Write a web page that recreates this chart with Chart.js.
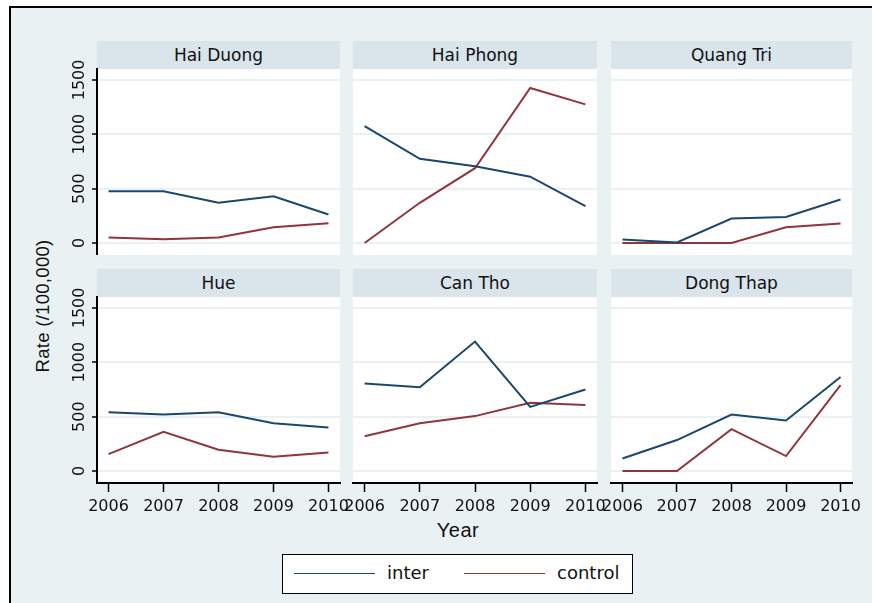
<!DOCTYPE html>
<html>
<head>
<meta charset="utf-8">
<script src="https://cdn.jsdelivr.net/npm/chart.js@4.4.1/dist/chart.umd.min.js"></script>
<style>
  html, body { margin: 0; padding: 0; background: #ffffff; }
  #page { position: relative; width: 872px; height: 603px; overflow: hidden;
          font-family: "DejaVu Sans", sans-serif; color: #111; }
  #frame { position: absolute; left: 9px; top: 6px; width: 900px; height: 640px;
           border-left: 2px solid #000; border-top: 2px solid #000; background: #e9f1f3; }
  .strip { position: absolute; background: #d9e5eb; font-size: 17px;
           display: flex; align-items: center; justify-content: center; }
  .plotbg { position: absolute; background: #ffffff; }
  canvas.panel { position: absolute; }
  #ytitle { position: absolute; left: 43px; top: 306px; font-size: 18.5px; white-space: nowrap;
            font-family: "Liberation Sans", Arial, sans-serif; letter-spacing: 0.3px;
            transform: translate(-50%, -50%) rotate(-90deg); }
  #xtitle { position: absolute; left: 458px; top: 530px; font-size: 20px;
            font-family: "Liberation Sans", Arial, sans-serif; letter-spacing: 0.5px;
            transform: translate(-50%, -50%); }
  #legend { position: absolute; left: 282px; top: 554px; width: 349px; height: 38px;
            border: 1.5px solid #000; background: #fff; }
  .swatch { position: absolute; top: 18px; height: 0; border-top: 1.5px solid; width: 81px; }
  .ltext { position: absolute; top: 7px; font-size: 18px; }
</style>
</head>
<body>
<div id="page">
  <div id="frame"></div>
  <div id="ytitle">Rate (/100,000)</div>
  <div id="xtitle">Year</div>
  <div id="legend">
    <div class="swatch" style="left:11px;border-color:#1a476f"></div>
    <div class="ltext" style="left:104px">inter</div>
    <div class="swatch" style="left:181px;border-color:#90353b"></div>
    <div class="ltext" style="left:274px">control</div>
  </div>
</div>
<script>
// Years on the horizontal axis and the value ticks on the vertical axis
const years = [2006, 2007, 2008, 2009, 2010];
const yTicks = [0, 500, 1000, 1500];

// One panel per province
const regions = ['Hai Duong', 'Hai Phong', 'Quang Tri', 'Hue', 'Can Tho', 'Dong Thap'];

// Rates per 100,000, intervention vs control group
const interHaiDuong   = [475, 475, 370, 430, 262];
const controlHaiDuong = [52, 35, 52, 145, 183];
const interHaiPhong   = [1075, 775, 705, 610, 340];
const controlHaiPhong = [0, 370, 688, 1425, 1275];
const interQuangTri   = [32, 5, 225, 240, 400];
const controlQuangTri = [0, 0, 0, 145, 180];
const interHue        = [540, 520, 540, 440, 400];
const controlHue      = [155, 360, 195, 132, 170];
const interCanTho     = [805, 770, 1190, 590, 750];
const controlCanTho   = [320, 440, 505, 628, 608];
const interDongThap   = [115, 285, 520, 465, 865];
const controlDongThap = [0, 0, 385, 138, 790];

const interRates = [interHaiDuong, interHaiPhong, interQuangTri, interHue, interCanTho, interDongThap];
const controlRates = [controlHaiDuong, controlHaiPhong, controlQuangTri, controlHue, controlCanTho, controlDongThap];

// Panel grid geometry
const colLeft = [97, 353, 611];
const colWidth = [243, 244, 241];
const rowTop = [41, 269];
const STRIP_H = 28;
const PLOT_H = 186;
const AXIS_W = 45;
const EXTRA_R = 25;
const EXTRA_T = 24;
const XAXIS_H = 40;

const INTER_COLOR = '#1a476f';
const CONTROL_COLOR = '#90353b';
const FONT = { family: '"DejaVu Sans", sans-serif', size: 16 };

const page = document.getElementById('page');

regions.forEach((name, i) => {
  const col = i % 3;
  const row = Math.floor(i / 3);
  const left = colLeft[col];
  const top = rowTop[row] + STRIP_H;
  const w = colWidth[col];

  const strip = document.createElement('div');
  strip.className = 'strip';
  strip.style.left = left + 'px';
  strip.style.top = rowTop[row] + 'px';
  strip.style.width = w + 'px';
  strip.style.height = STRIP_H + 'px';
  strip.textContent = name;
  page.appendChild(strip);

  const bg = document.createElement('div');
  bg.className = 'plotbg';
  bg.style.left = left + 'px';
  bg.style.top = top + 'px';
  bg.style.width = w + 'px';
  bg.style.height = PLOT_H + 'px';
  page.appendChild(bg);

  // The canvas reaches past the plot area so edge tick labels are not cut off
  const cw = w + AXIS_W + EXTRA_R;
  const ch = EXTRA_T + PLOT_H + (row === 1 ? XAXIS_H : 0);
  const canvas = document.createElement('canvas');
  canvas.className = 'panel';
  canvas.width = cw;
  canvas.height = ch;
  canvas.style.left = (left - AXIS_W) + 'px';
  canvas.style.top = (top - EXTRA_T) + 'px';
  canvas.style.width = cw + 'px';
  canvas.style.height = ch + 'px';
  page.appendChild(canvas);

  new Chart(canvas, {
    type: 'line',
    data: {
      datasets: [
        { label: 'inter', data: years.map((y, k) => ({ x: y, y: interRates[i][k] })),
          borderColor: INTER_COLOR, borderWidth: 2, pointRadius: 0, fill: false, tension: 0 },
        { label: 'control', data: years.map((y, k) => ({ x: y, y: controlRates[i][k] })),
          borderColor: CONTROL_COLOR, borderWidth: 2, pointRadius: 0, fill: false, tension: 0 }
      ]
    },
    options: {
      responsive: false,
      animation: false,
      devicePixelRatio: 1,
      layout: { padding: { left: col === 0 ? 0 : AXIS_W, right: EXTRA_R, top: EXTRA_T, bottom: 0 } },
      plugins: { legend: { display: false }, tooltip: { enabled: false } },
      scales: {
        x: {
          type: 'linear', min: 2005.79, max: 2010.21, display: row === 1,
          afterBuildTicks: s => { s.ticks = years.map(v => ({ value: v })); },
          afterFit: s => {
            s.height = row === 1 ? XAXIS_H : 0;
            s.paddingLeft = 0; s.paddingRight = 0;
          },
          grid: { drawOnChartArea: false, drawTicks: true, tickLength: 9, tickColor: '#000', tickWidth: 1.5 },
          border: { display: true, color: '#000', width: 2 },
          ticks: { color: '#111', font: FONT, padding: 5, minRotation: 0, maxRotation: 0,
                   autoSkip: false, callback: v => String(v) }
        },
        y: {
          type: 'linear', min: -110, max: 1600,
          afterBuildTicks: s => { s.ticks = yTicks.map(v => ({ value: v })); },
          afterFit: s => { s.width = col === 0 ? AXIS_W : 0; s.paddingTop = 0; s.paddingBottom = 0; },
          grid: { color: '#e9f1f3', lineWidth: 2, drawTicks: col === 0, tickLength: 5,
                  tickColor: '#000', tickWidth: 1.5 },
          border: { display: col === 0, color: '#000', width: 2 },
          ticks: { display: col === 0, color: '#111', font: FONT, minRotation: 90, maxRotation: 90,
                   crossAlign: 'center', padding: -8, autoSkip: false, callback: v => String(v) }
        }
      }
    }
  });
});
</script>
</body>
</html>
